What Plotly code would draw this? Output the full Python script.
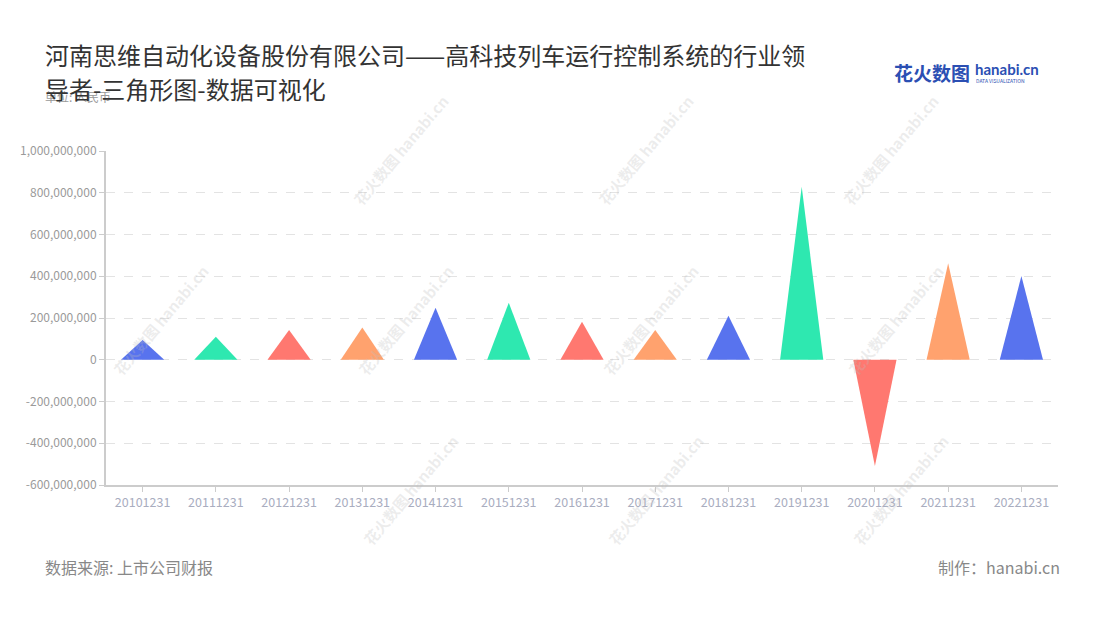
import plotly.graph_objects as go

categories = ["20101231", "20111231", "20121231", "20131231", "20141231", "20151231",
              "20161231", "20171231", "20181231", "20191231", "20201231", "20211231", "20221231"]
values = [95e6, 110e6, 142e6, 154e6, 249e6, 273e6, 182e6, 142e6, 211e6, 829e6, -509e6, 462e6, 401e6]
palette = ["#5873ee", "#2ee8b0", "#ff7870", "#ffa26e"]
ytickvals = [-6e8, -4e8, -2e8, 0, 2e8, 4e8, 6e8, 8e8, 1e9]
yticktext = ["-600,000,000", "-400,000,000", "-200,000,000", "0", "200,000,000",
             "400,000,000", "600,000,000", "800,000,000", "1,000,000,000"]

half = 0.295
fig = go.Figure()
for i, (c, v) in enumerate(zip(categories, values)):
    fig.add_trace(go.Scatter(
        x=[i - half, i, i + half, i - half],
        y=[0, v, 0, 0],
        mode="lines", fill="toself",
        fillcolor=palette[i % 4],
        line=dict(width=0, color=palette[i % 4]),
        hoverinfo="text", text=f"{c}: {v:,.0f}",
        showlegend=False,
    ))

# page body has an 8px offset; work in page pixel coordinates
OFF = 8
W, H = 1092, 612
pl, pr, pt, pb = 106 - OFF, 42, 151 - OFF, 135
pw, ph = W - pl - pr, H - pt - pb

font_cjk = "Noto Sans CJK SC, Noto Sans, sans-serif"
fig.update_layout(
    width=W, height=H,
    paper_bgcolor="white", plot_bgcolor="white",
    margin=dict(l=pl, r=pr, t=pt, b=pb),
    font=dict(family=font_cjk),
    xaxis=dict(
        range=[-0.5, 12.5], tickmode="array", tickvals=list(range(len(categories))),
        ticktext=categories, showgrid=False, zeroline=False,
        showline=True, linecolor="#cccccc", linewidth=2,
        ticks="outside", ticklen=5, tickcolor="#cccccc",
        tickfont=dict(size=12.5, color="#a9adbf"),
    ),
    yaxis=dict(
        range=[-6e8, 1e9], tickmode="array", tickvals=ytickvals, ticktext=yticktext,
        showgrid=True, gridcolor="#e3e3e3", griddash="dash", zeroline=False,
        showline=True, linecolor="#cccccc", linewidth=2,
        ticks="outside", ticklen=5, tickcolor="#cccccc",
        tickfont=dict(size=12, color="#9a9a9a"),
    ),
)

# page-pixel positions (x, y) of texts
ann = [
    dict(text="河南思维自动化设备股份有限公司——高科技列车运行控制系统的行业领", x=43, y=54,
         font=dict(size=24, color="#333333"), xanchor="left"),
    dict(text="单位: 人民币", x=43, y=96, font=dict(size=12, color="#999999"), xanchor="left"),
    dict(text="导者-三角形图-数据可视化", x=43, y=88,
         font=dict(size=24, color="#333333"), xanchor="left"),
    dict(text="数据来源: 上市公司财报", x=43, y=567, font=dict(size=16, color="#888888"), xanchor="left"),
    dict(text="制作：hanabi.cn", x=1062, y=567, font=dict(size=16, color="#888888"), xanchor="right"),
    dict(text="<b>花火数图</b>", x=892, y=72, font=dict(size=19, color="#2b4fb3"), xanchor="left"),
    dict(text="<b>hanabi.cn</b>", x=973, y=69, font=dict(size=15, color="#2b4fb3", family="Lato, sans-serif"), xanchor="left"),
    dict(text="DATA VISUALIZATION", x=974, y=80, font=dict(size=5, color="#2b4fb3"), xanchor="left"),
]
for a in ann:
    fig.add_annotation(
        xref="paper", yref="paper", showarrow=False,
        x=(a["x"] - OFF - pl) / pw, y=1 - (a["y"] - OFF - pt) / ph,
        xanchor=a["xanchor"], yanchor="middle",
        text=a["text"], font=a["font"],
    )

# faint watermarks
wm_pos = [(400, 150), (645, 150), (890, 150), (160, 320), (405, 320), (650, 320), (895, 320),
          (410, 490), (655, 490), (900, 490)]
for (wx, wy) in wm_pos:
    fig.add_annotation(
        xref="paper", yref="paper", showarrow=False,
        x=(wx - OFF - pl) / pw, y=1 - (wy - OFF - pt) / ph, xanchor="center", yanchor="middle",
        text="<b>花火数图 hanabi.cn</b>", textangle=-50,
        font=dict(size=15, color="rgba(190,190,190,0.28)"),
    )

fig.write_html("out.html")
